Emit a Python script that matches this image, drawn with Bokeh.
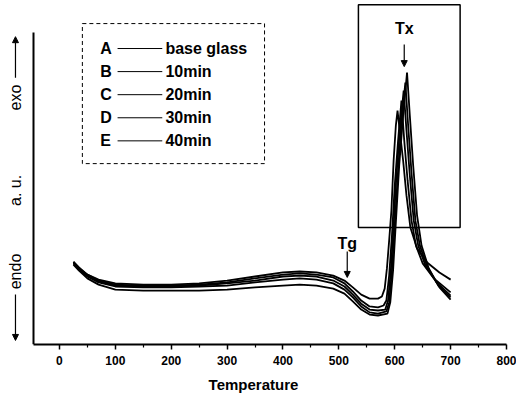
from math import pi
from bokeh.plotting import figure
from bokeh.models import Range1d, Label, Arrow, NormalHead, FixedTicker
from bokeh.embed import file_html
from bokeh.resources import INLINE

FONT = "Liberation Sans"

# ---- data (Temperature in °C, DSC signal in arbitrary units) ----
series_letters = ["A", "B", "C", "D", "E"]
series_names = ["base glass", "10min", "20min", "30min", "40min"]

temp_A = [25, 35, 50, 70, 100, 150, 200, 250, 300, 350, 400, 430, 460, 490, 510, 525, 540, 555, 570, 577,
          582, 586, 590, 594, 598, 602, 605, 610, 615, 621, 628, 640, 658, 680, 700]
dsc_A = [26.3, 24.4, 22.4, 20.8, 19.6, 19.2, 19.2, 19.6, 20.5, 21.8, 23.1, 23.4, 23.1, 22.1, 20.5, 18.3, 16.0,
         14.7, 14.7, 15.4, 17.9, 24.4, 33.3, 42.9, 59.0, 70.2, 75.0, 67.0, 59.0, 47.8, 37.5, 30.8, 26.3, 23.1, 20.8]

temp_B = [25, 35, 50, 70, 100, 150, 200, 250, 300, 350, 400, 430, 460, 490, 510, 525, 540, 555, 570, 580,
          585, 590, 595, 600, 606, 612, 617, 623, 630, 638, 650, 670, 700]
dsc_B = [26.6, 24.7, 22.4, 20.5, 19.2, 18.9, 18.9, 19.2, 19.9, 21.2, 22.4, 22.8, 22.4, 21.5, 19.6, 17.0, 14.1,
         12.2, 11.9, 12.5, 14.1, 22.1, 34.9, 51.0, 65.4, 78.2, 65.4, 52.6, 39.7, 31.7, 26.0, 21.2, 16.7]

temp_C = [25, 35, 50, 70, 100, 150, 200, 250, 300, 350, 400, 430, 460, 490, 510, 525, 540, 555, 570, 583,
          588, 593, 598, 603, 609, 616, 621, 627, 634, 642, 655, 675, 700]
dsc_C = [26.3, 24.4, 22.1, 20.2, 18.9, 18.6, 18.6, 18.9, 19.6, 20.5, 21.8, 22.1, 21.8, 20.5, 18.6, 16.0, 13.1,
         11.2, 10.9, 11.2, 14.1, 23.7, 38.1, 54.2, 68.6, 81.4, 68.6, 54.2, 39.7, 31.7, 25.3, 19.9, 15.7]

temp_D = [25, 35, 50, 70, 100, 150, 200, 250, 300, 350, 400, 430, 460, 490, 510, 525, 540, 555, 570, 585,
          590, 595, 600, 606, 612, 619, 624, 630, 637, 645, 658, 678, 700]
dsc_D = [26.0, 24.0, 21.8, 19.9, 18.6, 18.3, 18.3, 18.6, 18.9, 19.9, 20.8, 21.2, 20.8, 19.6, 17.6, 15.1, 12.2,
         10.3, 9.9, 10.6, 13.5, 23.7, 38.1, 55.8, 71.2, 84.0, 70.2, 55.1, 39.7, 31.7, 25.0, 18.9, 15.1]

temp_E = [25, 35, 50, 70, 100, 150, 200, 250, 300, 350, 400, 430, 460, 490, 510, 525, 540, 555, 570, 587,
          592, 597, 602, 608, 615, 622, 627, 633, 640, 648, 661, 680, 700]
dsc_E = [25.6, 23.7, 21.2, 19.2, 17.6, 17.3, 17.3, 17.3, 17.6, 18.3, 18.9, 19.2, 18.9, 17.9, 16.3, 13.8, 11.2,
         9.6, 9.3, 9.9, 13.5, 23.7, 39.1, 57.4, 73.4, 87.2, 73.4, 57.4, 41.3, 31.7, 24.4, 18.3, 14.4]

temps = [temp_A, temp_B, temp_C, temp_D, temp_E]
signals = [dsc_A, dsc_B, dsc_C, dsc_D, dsc_E]

x_ticks = [0, 100, 200, 300, 400, 500, 600, 700, 800]
x_minor_ticks = [50, 150, 250, 350, 450, 550, 650, 750]
x_axis_start = -47
y_axis_top = 100

tg_temp = 515
tx_temp = 617

# ---- figure ----
p = figure(width=516, height=398, output_backend="svg", toolbar_location=None,
           x_range=Range1d(-105.5, 800), y_range=Range1d(0, 110.3),
           min_border_left=0, min_border_right=10, min_border_top=0, min_border_bottom=54)
p.outline_line_color = None
p.xgrid.visible = False
p.ygrid.visible = False
p.background_fill_color = "white"

for t, s in zip(temps, signals):
    p.line(t, s, line_color="black", line_width=1.8)

# x axis
xa = p.xaxis[0]
xa.ticker = FixedTicker(ticks=x_ticks, minor_ticks=x_minor_ticks)
xa.bounds = (x_axis_start, 800)
xa.axis_line_width = 2
xa.axis_line_color = "black"
xa.major_tick_line_width = 1.5
xa.major_tick_out = 5
xa.major_tick_in = 0
xa.minor_tick_out = 3
xa.minor_tick_in = 0
xa.minor_tick_line_width = 1.2
xa.major_label_text_font = FONT
xa.major_label_text_font_style = "bold"
xa.major_label_text_font_size = "12px"
xa.major_label_text_color = "black"
xa.major_label_standoff = 6
xa.axis_label = "Temperature"
xa.axis_label_text_font = FONT
xa.axis_label_text_font_style = "bold"
xa.axis_label_text_font_size = "15px"
xa.axis_label_text_color = "black"
xa.axis_label_standoff = 8

# y axis (line only) placed at the left end of the temperature axis
ya = p.yaxis[0]
ya.fixed_location = x_axis_start
ya.ticker = FixedTicker(ticks=[])
ya.bounds = (0, y_axis_top)
ya.axis_line_width = 2
ya.axis_line_color = "black"
ya.major_tick_line_color = None
ya.minor_tick_line_color = None
ya.major_label_text_font_size = "0px"

# y label: exo / a. u. / endo with arrows
ylab_x = -78.7
for txt, yy in [("exo", 79.2), ("a. u.", 49.4), ("endo", 23.4)]:
    p.add_layout(Label(x=ylab_x, y=yy, text=txt, angle=pi / 2, text_align="center",
                       text_baseline="middle", text_font=FONT, text_font_size="16px",
                       text_color="black"))
p.add_layout(Arrow(x_start=ylab_x, y_start=85.5, x_end=ylab_x, y_end=98.7, line_width=1.2,
                   end=NormalHead(size=6, fill_color="black", line_color="black")))
p.add_layout(Arrow(x_start=ylab_x, y_start=16.0, x_end=ylab_x, y_end=1.3, line_width=1.2,
                   end=NormalHead(size=6, fill_color="black", line_color="black")))

# inset box around crystallisation peaks
p.quad(left=535, right=717, bottom=37.5, top=108.9, fill_color=None, line_color="black", line_width=1.5)

# Tx and Tg markers
p.add_layout(Label(x=tx_temp, y=101.3, text="Tx", text_align="center", text_baseline="middle",
                   text_font=FONT, text_font_style="bold", text_font_size="16px", text_color="black"))
p.add_layout(Arrow(x_start=tx_temp, y_start=96.2, x_end=tx_temp, y_end=89.1, line_width=1.2,
                   end=NormalHead(size=6, fill_color="black", line_color="black")))
p.add_layout(Label(x=tg_temp, y=32.4, text="Tg", text_align="center", text_baseline="middle",
                   text_font=FONT, text_font_style="bold", text_font_size="16px", text_color="black"))
p.add_layout(Arrow(x_start=tg_temp, y_start=29.8, x_end=tg_temp, y_end=21.5, line_width=1.2,
                   end=NormalHead(size=6, fill_color="black", line_color="black")))

# legend (dashed box, letter, line sample, name)
p.quad(left=41, right=367, bottom=58.0, top=102.9, fill_color=None, line_color="black",
       line_width=1, line_dash="4 3")
row_y0, row_dy = 94.9, 7.4
for i, (letter, name) in enumerate(zip(series_letters, series_names)):
    yy = row_y0 - i * row_dy
    p.add_layout(Label(x=73, y=yy, text=letter, text_align="left", text_baseline="middle",
                       text_font=FONT, text_font_style="bold", text_font_size="16px", text_color="black"))
    p.segment(x0=104, y0=yy, x1=184, y1=yy, line_color="black", line_width=1)
    p.add_layout(Label(x=189.6, y=yy, text=name, text_align="left", text_baseline="middle",
                       text_font=FONT, text_font_style="bold", text_font_size="16px", text_color="black"))

open("out.html", "w").write(file_html(p, INLINE))
